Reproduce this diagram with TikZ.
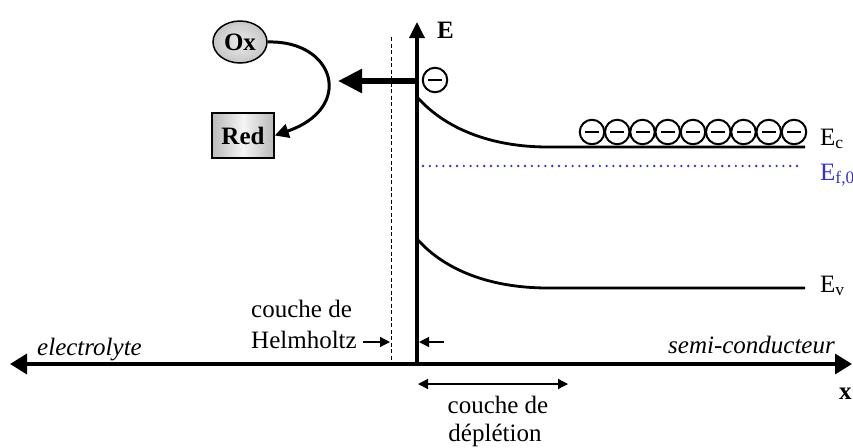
\documentclass[tikz,border=0pt]{standalone}
\usepackage{fontspec}
\setmainfont{Liberation Serif}
\usetikzlibrary{arrows.meta,shapes.geometric}
\definecolor{efblue}{RGB}{51,51,204}
\begin{document}
\begin{tikzpicture}[x=1pt,y=-1pt,
  font=\fontsize{25}{30}\selectfont,
  txt/.style={inner sep=0pt},
  level/.style={line width=2.8pt},
  bigaxis/.style={line width=3.4pt},
  thinarrow/.style={line width=1.2pt},
  electron/.style={circle, draw, line width=2pt, minimum size=24.5pt, inner sep=0pt,
    path picture={\draw[line width=2.8pt] ([xshift=-7pt]path picture bounding box.center) -- ([xshift=7pt]path picture bounding box.center);}}]
\useasboundingbox (0,0) rectangle (853,447);
% axes
\coordinate (xl) at (10,364);
\coordinate (xr) at (852,364);
\coordinate (o) at (417,365.7);
\coordinate (etop) at (417,22);
\draw[bigaxis, {Triangle[length=17pt,width=20pt]}-{Triangle[length=17pt,width=20pt]}] (xl) -- (xr);
\draw[bigaxis, -{Triangle[length=16pt,width=15pt]}] (o) -- (etop);
\node[txt, anchor=base west] (elab) at (437,38) {\bfseries E};
\node[txt, anchor=base west] (xlab) at (839,399) {\bfseries x};
% Helmholtz plane
\coordinate (ht) at (391,37);
\coordinate (hb) at (391,363);
\draw[line width=0.9pt, dash pattern=on 4pt off 2.5pt] (ht) -- (hb);
% bands
\draw[level] (418,98) .. controls (445,128) and (490,147) .. (548,147) -- (805,147);
\draw[level] (418,240) .. controls (445,270) and (490,288) .. (548,288) -- (805,288);
\draw[efblue, line width=2.6pt, line cap=round, dash pattern=on 0pt off 6.8pt] (423,166) -- (803,166);
\node[txt, anchor=base west] (ec) at (820,145) {E\textsubscript{c}};
\node[txt, anchor=base west, text=efblue] (ef) at (820,180) {E\textsubscript{f,0}};
\node[txt, anchor=base west] (ev) at (820,292) {E\textsubscript{v}};
% electrons
\foreach \i in {0,...,8}
  \node[electron] (el\i) at (592+25.25*\i,132) {};
\node[electron] (e0) at (435,80) {};
\coordinate (ts) at (417,81);
\coordinate (tt) at (338,81);
\draw[line width=5.5pt, -{Triangle[length=24pt,width=23pt]}] (ts) -- (tt);
% redox couple
\node[ellipse, draw, line width=1.5pt, minimum width=54pt, minimum height=42pt, inner sep=0pt,
  inner color=gray!15, outer color=gray!45] (ox) at (240,42) {\bfseries Ox};
\node[rectangle, draw, line width=1.5pt, minimum width=62pt, minimum height=45pt, inner sep=0pt,
  left color=gray!55, right color=gray!55, middle color=gray!8] (red) at (243,135.5) {\bfseries Red};
\draw[line width=3pt, -{Triangle[length=14pt,width=14pt]}] (ox.east) .. controls (335,40) and (355,108) .. (red.east);
% labels
\node[txt, anchor=base west] (hl1) at (251,317) {couche de};
\node[txt, anchor=base west] (hl2) at (251,348) {Helmholtz};
\coordinate (hs) at (363,342);
\coordinate (hp) at (390,342);
\draw[thinarrow, -{Triangle[length=10pt,width=10pt]}] (hs) -- (hp);
\coordinate (sp) at (444,342);
\coordinate (sa) at (419,342);
\draw[thinarrow, -{Triangle[length=10pt,width=10pt]}] (sp) -- (sa);
\node[txt, anchor=base west] (elec) at (37,355) {\itshape electrolyte};
\node[txt, anchor=base east] (semi) at (835,353) {\itshape semi-conducteur};
\coordinate (dl) at (418,384);
\coordinate (dr) at (568,384);
\draw[thinarrow, {Triangle[length=10pt,width=10pt]}-{Triangle[length=10pt,width=10pt]}] (dl) -- (dr);
\node[txt, anchor=base] (dp1) at (498,413) {couche de};
\node[txt, anchor=base] (dp2) at (495,441) {déplétion};
\end{tikzpicture}
\end{document}
